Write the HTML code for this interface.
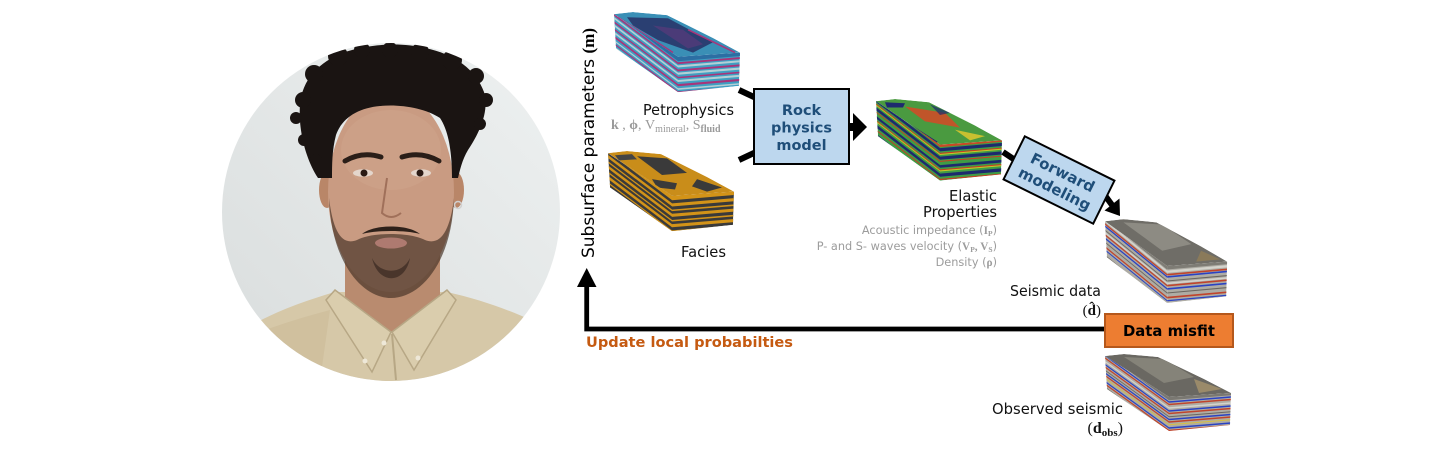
<!DOCTYPE html>
<html>
<head>
<meta charset="utf-8">
<style>
  html,body{margin:0;padding:0;background:#fff;width:1440px;height:460px;overflow:hidden;}
  svg{display:block;overflow:hidden;}
  .lbl{font-family:"DejaVu Sans","Liberation Sans",sans-serif;font-size:14.7px;fill:#111;}
  .sm{font-family:"DejaVu Sans","Liberation Sans",sans-serif;font-size:11.3px;fill:#9c9c9c;}
  .mth{font-family:"Liberation Serif","DejaVu Serif",serif;font-weight:bold;}
  .box{font-family:"DejaVu Sans","Liberation Sans",sans-serif;font-weight:bold;font-size:14.5px;fill:#1f4e79;}
</style>
</head>
<body>
<svg width="1440" height="460" viewBox="0 0 1440 460" xmlns="http://www.w3.org/2000/svg">
<defs>
  <clipPath id="cc"><circle cx="391" cy="212" r="169"/></clipPath>
  <linearGradient id="bgg" x1="1" y1="0" x2="0" y2="1">
    <stop offset="0" stop-color="#eef1f1"/>
    <stop offset="1" stop-color="#d9dddd"/>
  </linearGradient>
  <clipPath id="cf"><polygon points="1,3 65,44 65,78 3,36"/></clipPath>
  <clipPath id="cr"><polygon points="65,44 127,40 126,72 65,78"/></clipPath>
  <clipPath id="ct"><polygon points="1,3 20,1 54,4 75,14 100,26 127,40 65,44"/></clipPath>

  <!-- Petrophysics stripes -->
  <g id="sP">
    <rect x="-2" y="-8" width="69" height="9" fill="#2c6ea3"/>
    <rect x="-2" y="2" width="69" height="1.8" fill="#a93479"/>
    <rect x="-2" y="5" width="69" height="2" fill="#b4cfd6"/>
    <rect x="-2" y="9" width="69" height="1.8" fill="#a93479"/>
    <rect x="-2" y="12" width="69" height="2" fill="#b4cfd6"/>
    <rect x="-2" y="16" width="69" height="1.5" fill="#a93479"/>
    <rect x="-2" y="19" width="69" height="2" fill="#b4cfd6"/>
    <rect x="-2" y="23" width="69" height="2" fill="#a93479"/>
    <rect x="-2" y="27" width="69" height="1.5" fill="#b4cfd6"/>
    <rect x="-2" y="30" width="69" height="1.5" fill="#a93479"/>
    <rect x="-2" y="33" width="69" height="1.5" fill="#b4cfd6"/>
    <rect x="-2" y="36" width="69" height="1.5" fill="#a93479"/>
  </g>
  <!-- Facies stripes -->
  <g id="sF">
    <rect x="-2" y="-8" width="69" height="9" fill="#d39318"/>
    <rect x="-2" y="4" width="69" height="3" fill="#d39318"/>
    <rect x="-2" y="10" width="69" height="1.5" fill="#d39318"/>
    <rect x="-2" y="14" width="69" height="3" fill="#d39318"/>
    <rect x="-2" y="20" width="69" height="1.5" fill="#d39318"/>
    <rect x="-2" y="24" width="69" height="3" fill="#d39318"/>
    <rect x="-2" y="30" width="69" height="1.5" fill="#d39318"/>
    <rect x="-2" y="34" width="69" height="3" fill="#d39318"/>
  </g>
  <!-- Elastic stripes -->
  <g id="sE">
    <rect x="-2" y="-8" width="69" height="7" fill="#c84a26"/>
    <rect x="-2" y="0" width="69" height="3" fill="#1d2a6e"/>
    <rect x="-2" y="4.5" width="69" height="1" fill="#cc3b22"/>
    <rect x="-2" y="5.5" width="69" height="1" fill="#c9c528"/>
    <rect x="-2" y="8" width="69" height="3" fill="#1d2a6e"/>
    <rect x="-2" y="12" width="69" height="1" fill="#cc3b22"/>
    <rect x="-2" y="16" width="69" height="2.5" fill="#1d2a6e"/>
    <rect x="-2" y="20" width="69" height="1" fill="#cc3b22"/>
    <rect x="-2" y="21" width="69" height="1" fill="#c9c528"/>
    <rect x="-2" y="24" width="69" height="3" fill="#1d2a6e"/>
    <rect x="-2" y="29" width="69" height="1" fill="#cc3b22"/>
    <rect x="-2" y="33" width="69" height="2" fill="#1d2a6e"/>
    <rect x="-2" y="36" width="69" height="1" fill="#c9c528"/>
  </g>
  <!-- Seismic stripes -->
  <g id="sS">
    <rect x="-2" y="-8" width="69" height="8" fill="#7e7c75"/>
    <rect x="-2" y="1" width="69" height="2" fill="#d4d3cc"/>
    <rect x="-2" y="4" width="69" height="1.5" fill="#c0442c"/>
    <rect x="-2" y="6" width="69" height="1.5" fill="#2a42c4"/>
    <rect x="-2" y="10" width="69" height="1" fill="#6a6660"/>
    <rect x="-2" y="12" width="69" height="1.5" fill="#d4d3cc"/>
    <rect x="-2" y="14" width="69" height="1.5" fill="#c0442c"/>
    <rect x="-2" y="17" width="69" height="1.5" fill="#2a42c4"/>
    <rect x="-2" y="21" width="69" height="1" fill="#6a6660"/>
    <rect x="-2" y="25" width="69" height="1.5" fill="#c0442c"/>
    <rect x="-2" y="28" width="69" height="1.2" fill="#2a42c4"/>
    <rect x="-2" y="33" width="69" height="1" fill="#6a6660"/>
    <rect x="-2" y="35" width="69" height="1.2" fill="#c0442c"/>
  </g>
  <!-- Observed stripes -->
  <g id="sO">
    <rect x="-2" y="-8" width="69" height="8" fill="#7a7872"/>
    <rect x="-2" y="1" width="69" height="1.5" fill="#2a42c4"/>
    <rect x="-2" y="3.5" width="69" height="1.5" fill="#c0442c"/>
    <rect x="-2" y="7" width="69" height="1.5" fill="#d4d3cc"/>
    <rect x="-2" y="10" width="69" height="1.5" fill="#2a42c4"/>
    <rect x="-2" y="12.5" width="69" height="1.5" fill="#c0442c"/>
    <rect x="-2" y="16" width="69" height="1" fill="#6a6660"/>
    <rect x="-2" y="18.5" width="69" height="1.5" fill="#2a42c4"/>
    <rect x="-2" y="21" width="69" height="1.5" fill="#c0442c"/>
    <rect x="-2" y="24" width="69" height="1" fill="#d8c040"/>
    <rect x="-2" y="27" width="69" height="1.5" fill="#2a42c4"/>
    <rect x="-2" y="29.5" width="69" height="1.5" fill="#c0442c"/>
    <rect x="-2" y="33" width="69" height="1" fill="#6a6660"/>
    <rect x="-2" y="35.5" width="69" height="1.5" fill="#2a42c4"/>
  </g>
</defs>

<rect x="0" y="0" width="1440" height="460" fill="#fff"/>

<!-- ================= PHOTO ================= -->
<g clip-path="url(#cc)">
  <rect x="222" y="43" width="338" height="338" fill="url(#bgg)"/>
  <path d="M222,381 L222,350 C240,325 290,305 335,292 L447,292 C492,302 530,318 560,335 L560,381 Z" fill="#d6c8a8"/>
  <path d="M230,345 C260,330 300,318 330,310 L320,381 L230,381 Z" fill="#cbbb98" opacity="0.6"/>
  <path d="M345,235 L345,300 L391,332 L440,300 L440,235 Z" fill="#b98b6f"/>
  <path d="M335,290 L391,332 L372,372 L326,300 Z" fill="#dacdad" stroke="#b7a785" stroke-width="1.5"/>
  <path d="M447,290 L392,332 L414,370 L456,300 Z" fill="#dacdad" stroke="#b7a785" stroke-width="1.5"/>
  <line x1="392" y1="334" x2="396" y2="380" stroke="#b7a785" stroke-width="2"/>
  <circle cx="384" cy="343" r="2.5" fill="#eee8d8"/>
  <circle cx="365" cy="361" r="2.5" fill="#eee8d8"/>
  <circle cx="418" cy="358" r="2.5" fill="#eee8d8"/>
  <ellipse cx="327" cy="190" rx="8" ry="18" fill="#b98668"/>
  <ellipse cx="456" cy="190" rx="8" ry="18" fill="#b98668"/>
  <circle cx="458" cy="205" r="3.5" fill="none" stroke="#d0d0d0" stroke-width="1.5"/>
  <ellipse cx="391" cy="192" rx="63" ry="100" fill="#c99b82"/>
  <ellipse cx="391" cy="150" rx="50" ry="40" fill="#cfa38a" opacity="0.6"/>
  <path d="M329,198 C331,262 362,298 391,298 C421,298 452,262 454,198 C450,232 440,246 425,240 C410,232 372,232 357,240 C342,246 333,232 329,198 Z" fill="#4a362a" opacity="0.7"/>
  <path d="M362,234 C374,224 408,224 420,234 C406,230 376,230 362,234 Z" fill="#2e211a"/>
  <ellipse cx="391" cy="243" rx="16" ry="5.5" fill="#ae7a70"/>
  <path d="M372,258 C380,275 402,275 410,258 C405,285 378,285 372,258Z" fill="#2e211a" opacity="0.6"/>
  <path d="M345,161 Q362,151 381,157" stroke="#2a1e18" stroke-width="5" fill="none" stroke-linecap="round"/>
  <path d="M402,157 Q421,151 439,161" stroke="#2a1e18" stroke-width="5" fill="none" stroke-linecap="round"/>
  <ellipse cx="363" cy="173" rx="10" ry="3.8" fill="#e4d6cc"/>
  <circle cx="364" cy="173" r="3.5" fill="#2a1a14"/>
  <ellipse cx="421" cy="173" rx="10" ry="3.8" fill="#e4d6cc"/>
  <circle cx="420" cy="173" r="3.5" fill="#2a1a14"/>
  <path d="M387,178 L382,213 Q391,221 401,213" stroke="#a0705a" stroke-width="2" fill="none"/>
  <path d="M318,178 C306,160 298,130 300,105 C302,80 318,62 345,52 C370,44 400,42 425,48 C455,54 476,70 484,92 C490,112 478,135 468,150 C462,160 460,170 458,178 L452,178 C452,150 448,130 440,118 C425,108 400,104 380,106 C358,108 342,118 336,135 C332,150 332,165 332,178 Z" fill="#1a1412"/>
  <circle cx="303" cy="100" r="8" fill="#1a1412"/>
  <circle cx="296" cy="118" r="6" fill="#1a1412"/>
  <circle cx="314" cy="74" r="9" fill="#1a1412"/>
  <circle cx="338" cy="56" r="10" fill="#1a1412"/>
  <circle cx="362" cy="50" r="8" fill="#1a1412"/>
  <circle cx="390" cy="50" r="8" fill="#1a1412"/>
  <circle cx="420" cy="52" r="9" fill="#1a1412"/>
  <circle cx="452" cy="60" r="10" fill="#1a1412"/>
  <circle cx="476" cy="76" r="8" fill="#1a1412"/>
  <circle cx="486" cy="100" r="7" fill="#1a1412"/>
  <circle cx="480" cy="124" r="6" fill="#1a1412"/>
  <circle cx="304" cy="140" r="6" fill="#1a1412"/>
  <circle cx="316" cy="160" r="6" fill="#1a1412"/>
</g>

<!-- ================= CUBES ================= -->
<g transform="translate(613,11) scale(1,1.04)">
  <g clip-path="url(#cf)"><polygon points="1,3 65,44 65,78 3,36" fill="#3f9fc2"/><g transform="skewY(36)"><use href="#sP"/></g></g>
  <g clip-path="url(#cr)"><polygon points="65,44 127,40 126,72 65,78" fill="#3f9fc2"/><g transform="translate(65,47.3) skewY(-4.6)"><use href="#sP"/></g></g>
  <g clip-path="url(#ct)"><polygon points="1,3 20,1 54,4 75,14 100,26 127,40 65,44" fill="#3a8fb6"/>
    <polygon points="14,6 55,7 100,30 80,40 45,28 20,14" fill="#2a3f72"/>
    <polygon points="40,14 70,18 90,32 75,36" fill="#5a3a7a" opacity="0.7"/>
    <line x1="5" y1="6" x2="60" y2="40" stroke="#a93479" stroke-width="1.5"/>
    <line x1="75" y1="18" x2="122" y2="40" stroke="#a93479" stroke-width="1.5"/>
  </g>
</g>
<g transform="translate(607,150) scale(1,1.04)">
  <g clip-path="url(#cf)"><polygon points="1,3 65,44 65,78 3,36" fill="#3a3a3a"/><g transform="skewY(36)"><use href="#sF"/></g></g>
  <g clip-path="url(#cr)"><polygon points="65,44 127,40 126,72 65,78" fill="#3a3a3a"/><g transform="translate(65,47.3) skewY(-4.6)"><use href="#sF"/></g></g>
  <g clip-path="url(#ct)"><polygon points="1,3 20,1 54,4 75,14 100,26 127,40 65,44" fill="#c98d1a"/>
    <polygon points="30,6 60,8 80,22 55,24" fill="#3a3a3a"/>
    <polygon points="90,28 115,36 100,40 85,35" fill="#3a3a3a"/>
    <polygon points="8,5 25,4 30,9 12,10" fill="#444"/>
    <polygon points="45,28 70,32 68,38 50,36" fill="#3a3a3a"/>
  </g>
</g>
<g transform="translate(875,98) scale(1,1.06)">
  <g clip-path="url(#cf)"><polygon points="1,3 65,44 65,78 3,36" fill="#3f9c45"/><g transform="skewY(36)"><use href="#sE"/></g></g>
  <g clip-path="url(#cr)"><polygon points="65,44 127,40 126,72 65,78" fill="#3f9c45"/><g transform="translate(65,47.3) skewY(-4.6)"><use href="#sE"/></g></g>
  <g clip-path="url(#ct)"><polygon points="1,3 20,1 54,4 75,14 100,26 127,40 65,44" fill="#4a9a40"/>
    <polygon points="30,8 70,14 85,28 50,22" fill="#c0552a"/>
    <polygon points="10,4 30,5 28,9 12,9" fill="#1e2a6e"/>
    <polygon points="80,30 110,36 95,40" fill="#c8c030"/>
    <polygon points="55,6 75,14 65,16" fill="#1e2a6e" opacity="0.7"/>
    <line x1="5" y1="8" x2="62" y2="42" stroke="#1e2a6e" stroke-width="2"/>
  </g>
</g>
<g transform="translate(1104,218) scale(0.97,1.09)">
  <g clip-path="url(#cf)"><polygon points="1,3 65,44 65,78 3,36" fill="#aeaca4"/><g transform="skewY(36)"><use href="#sS"/></g></g>
  <g clip-path="url(#cr)"><polygon points="65,44 127,40 126,72 65,78" fill="#aeaca4"/><g transform="translate(65,47.3) skewY(-4.6)"><use href="#sS"/></g></g>
  <g clip-path="url(#ct)"><polygon points="1,3 20,1 54,4 75,14 100,26 127,40 65,44" fill="#6f6d67"/>
    <polygon points="20,4 60,6 90,24 60,30" fill="#8d8b83"/>
    <polygon points="100,30 120,38 95,40" fill="#8a7a5a"/>
  </g>
</g>
<g transform="translate(1104,353)">
  <g clip-path="url(#cf)"><polygon points="1,3 65,44 65,78 3,36" fill="#aeaca4"/><g transform="skewY(36)"><use href="#sO"/></g></g>
  <g clip-path="url(#cr)"><polygon points="65,44 127,40 126,72 65,78" fill="#aeaca4"/><g transform="translate(65,47.3) skewY(-4.6)"><use href="#sO"/></g></g>
  <g clip-path="url(#ct)"><polygon points="1,3 20,1 54,4 75,14 100,26 127,40 65,44" fill="#6a6862"/>
    <polygon points="20,4 60,6 90,24 60,30" fill="#858379"/>
    <polygon points="90,26 118,36 95,40" fill="#9a8a6a"/>
  </g>
</g>

<!-- ================= CONNECTORS ================= -->
<line x1="739" y1="90" x2="755" y2="97.5" stroke="#000" stroke-width="6"/>
<line x1="739" y1="160" x2="755" y2="152.5" stroke="#000" stroke-width="6"/>
<line x1="848" y1="127" x2="855" y2="127" stroke="#000" stroke-width="8"/>
<polygon points="853,113 867,127 853,141" fill="#000"/>
<line x1="1003" y1="152" x2="1015" y2="160" stroke="#000" stroke-width="6"/>
<line x1="1101" y1="190" x2="1112" y2="205" stroke="#000" stroke-width="6"/>
<polygon points="1104.5,210.5 1120,216 1119.5,198.5" fill="#000"/>

<polyline points="1106,329 586.7,329 586.7,284" fill="none" stroke="#000" stroke-width="4.8" stroke-linejoin="miter"/>
<polygon points="577,287 596.5,287 586.7,268" fill="#000"/>

<!-- ================= BOXES ================= -->
<rect x="754" y="89" width="95" height="75" fill="#bdd7ee" stroke="#000" stroke-width="2"/>
<text class="box" x="801.5" y="115" text-anchor="middle">Rock</text>
<text class="box" x="801.5" y="132.5" text-anchor="middle">physics</text>
<text class="box" x="801.5" y="150" text-anchor="middle">model</text>

<g transform="translate(1059,180) rotate(26.3)">
  <rect x="-50" y="-24" width="100" height="48" fill="#bdd7ee" stroke="#000" stroke-width="2"/>
  <text class="box" x="0" y="-3" text-anchor="middle" style="font-size:15px">Forward</text>
  <text class="box" x="0" y="15" text-anchor="middle" style="font-size:15px">modeling</text>
</g>

<rect x="1105" y="314" width="128" height="33" fill="#ed7d31" stroke="#b5581c" stroke-width="2"/>
<text x="1169" y="336" text-anchor="middle" font-family="DejaVu Sans, Liberation Sans, sans-serif" font-weight="bold" font-size="15.5" fill="#000" textLength="92" lengthAdjust="spacingAndGlyphs">Data misfit</text>

<!-- ================= LABELS ================= -->
<text transform="translate(594,258) rotate(-90)" font-family="DejaVu Sans, Liberation Sans, sans-serif" font-size="17" fill="#000" textLength="230" lengthAdjust="spacingAndGlyphs">Subsurface parameters <tspan class="mth">(m)</tspan></text>

<text class="lbl" x="734" y="115" text-anchor="end" textLength="91" lengthAdjust="spacingAndGlyphs">Petrophysics</text>
<text x="611" y="129" font-family="Liberation Serif, DejaVu Serif, serif" font-size="14" fill="#9a9a9a"><tspan font-weight="bold">k</tspan> , <tspan font-weight="bold">ϕ</tspan>, V<tspan font-size="10" dy="3">mineral</tspan><tspan dy="-3">, S</tspan><tspan font-size="10" dy="3" font-weight="bold">fluid</tspan></text>

<text class="lbl" x="726" y="257" text-anchor="end" textLength="45" lengthAdjust="spacingAndGlyphs">Facies</text>

<text class="lbl" x="997" y="201" text-anchor="end" textLength="48" lengthAdjust="spacingAndGlyphs">Elastic</text>
<text class="lbl" x="997" y="217" text-anchor="end" textLength="74" lengthAdjust="spacingAndGlyphs">Properties</text>
<text class="sm" x="997" y="234" text-anchor="end">Acoustic impedance (<tspan class="mth">I</tspan><tspan class="mth" font-size="7.5" dy="2">P</tspan><tspan dy="-2">)</tspan></text>
<text class="sm" x="997" y="250" text-anchor="end">P- and S- waves velocity (<tspan class="mth">V</tspan><tspan class="mth" font-size="7.5" dy="2">P</tspan><tspan dy="-2" class="mth">, V</tspan><tspan class="mth" font-size="7.5" dy="2">S</tspan><tspan dy="-2">)</tspan></text>
<text class="sm" x="997" y="266" text-anchor="end">Density (<tspan class="mth">ρ</tspan>)</text>

<text class="lbl" x="1101" y="296" text-anchor="end" textLength="91" lengthAdjust="spacingAndGlyphs">Seismic data</text>
<text x="1101" y="315" text-anchor="end" font-family="Liberation Serif, DejaVu Serif, serif" font-size="15" fill="#111">(<tspan font-weight="bold">d̂</tspan>)</text>

<text class="lbl" x="1123" y="414" text-anchor="end" textLength="131" lengthAdjust="spacingAndGlyphs">Observed seismic</text>
<text x="1123" y="433" text-anchor="end" font-family="Liberation Serif, DejaVu Serif, serif" font-size="16" fill="#111">(<tspan font-weight="bold">d</tspan><tspan font-weight="bold" font-size="11" dy="3">obs</tspan><tspan dy="-3">)</tspan></text>

<text x="586" y="347" font-family="DejaVu Sans, Liberation Sans, sans-serif" font-weight="bold" font-size="14" fill="#c55a11" textLength="207" lengthAdjust="spacingAndGlyphs">Update local probabilties</text>
</svg>
</body>
</html>
